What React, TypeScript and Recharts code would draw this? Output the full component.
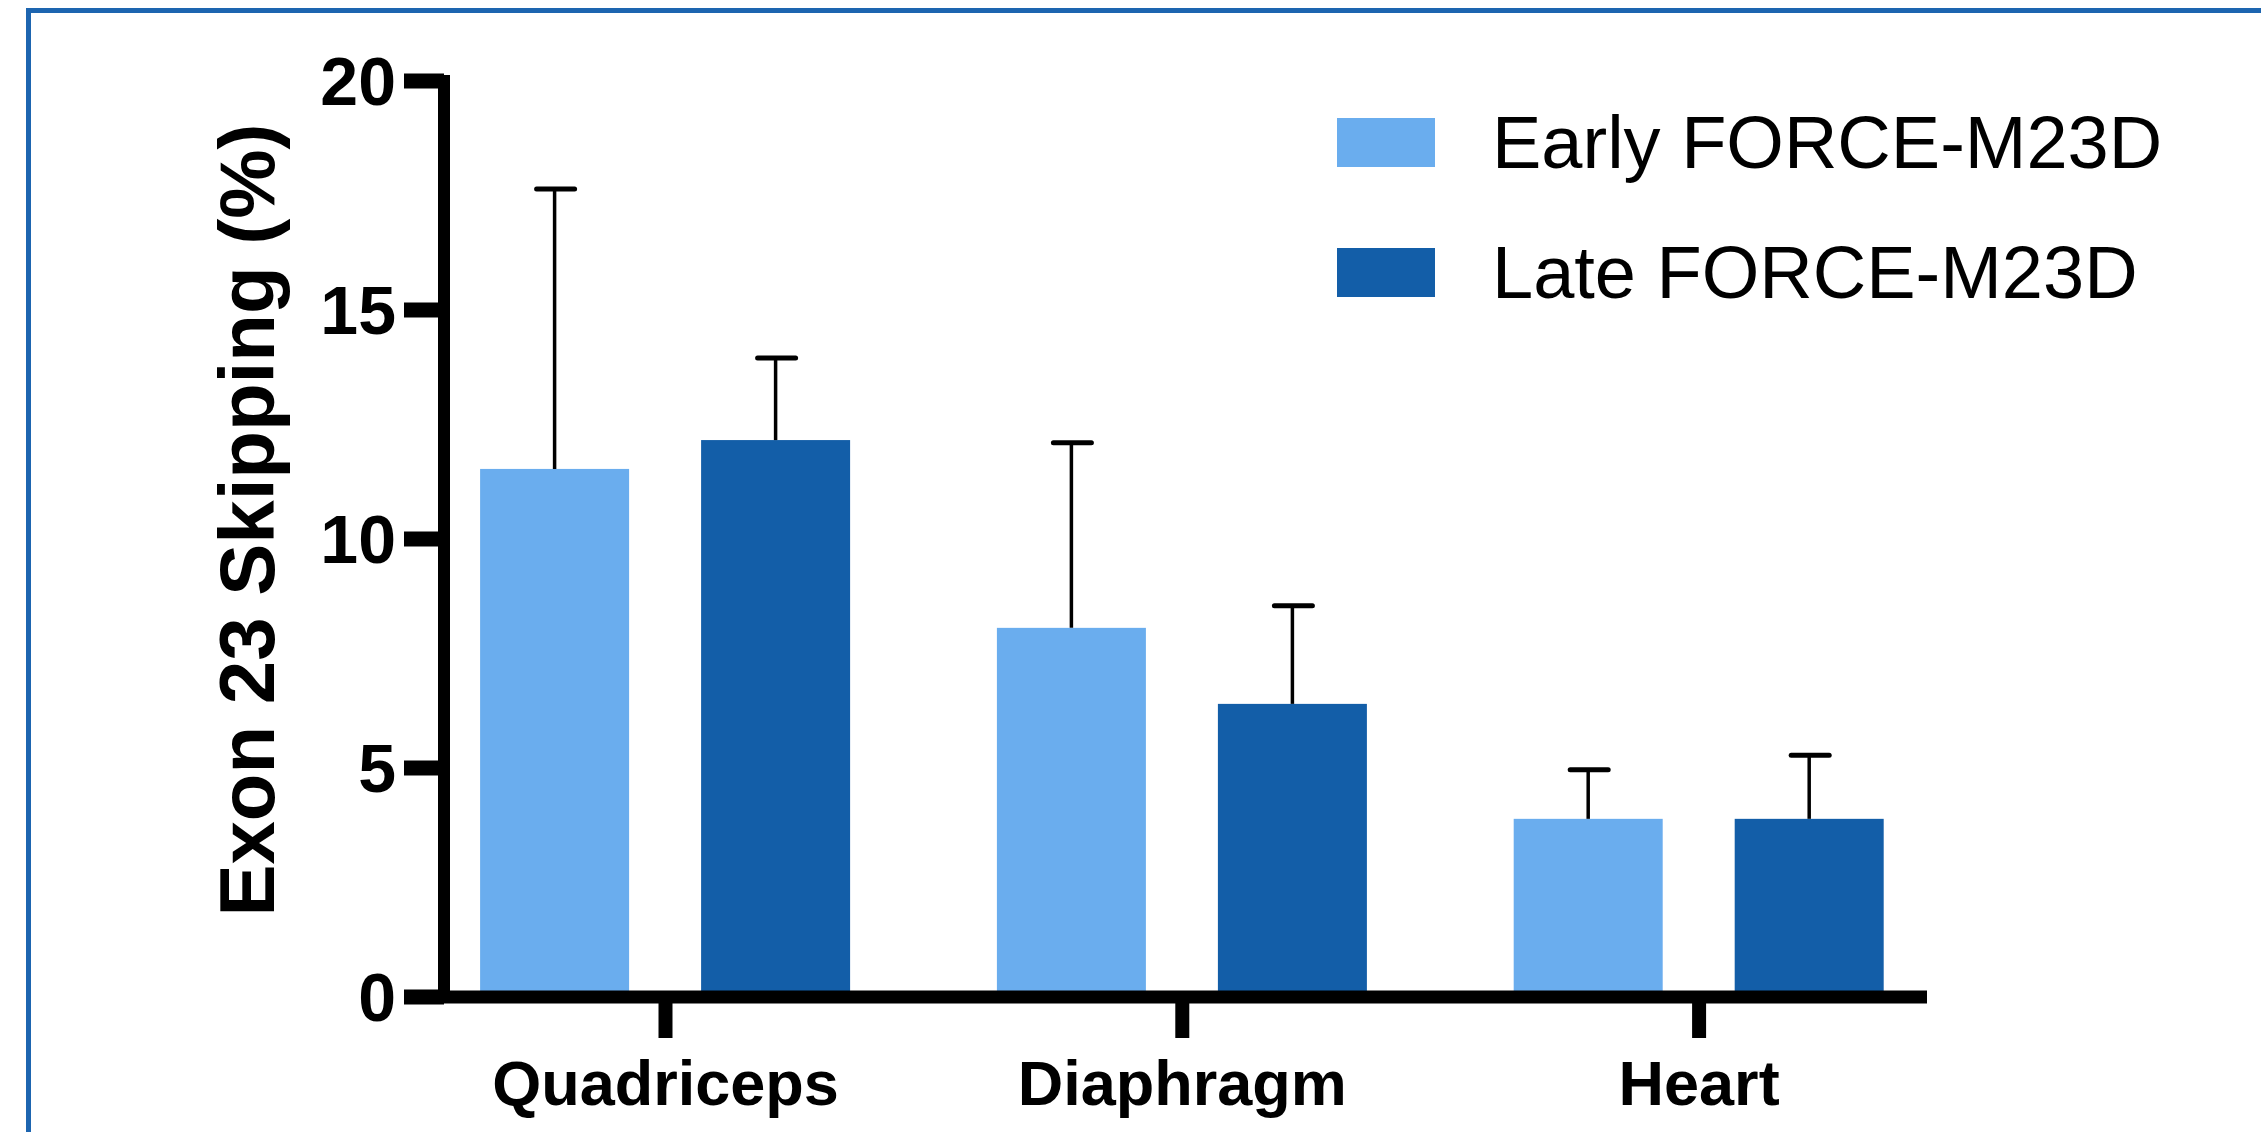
import { BarChart, Bar, XAxis, YAxis, Legend, Label } from 'recharts';

const tissues = ['Quadriceps', 'Diaphragm', 'Heart'];
const earlyMean = [11.53, 8.06, 3.89];
const earlySd = [6.11, 4.04, 1.07];
const lateMean = [12.16, 6.4, 3.89];
const lateSd = [1.79, 2.14, 1.39];
const yTicks = [0, 5, 10, 15, 20];

const EARLY = '#6aadee';
const LATE = '#135ea8';
const FONT = '"Liberation Sans", Arial, sans-serif';

const data = tissues.map((name, i) => ({
  pos: i,
  name,
  early: earlyMean[i],
  earlySd: earlySd[i],
  late: lateMean[i],
  lateSd: lateSd[i],
}));

// bar + upper-only SD whisker (GraphPad style)
const barWithCap = (valueKey: string, sdKey: string) => (props: any) => {
  const { x, y, width, height, fill, payload } = props;
  const v = payload[valueKey];
  const pxPerUnit = v ? height / v : 0;
  const top = y - payload[sdKey] * pxPerUnit;
  const cx = x + width / 2;
  return (
    <g>
      <rect x={x} y={y} width={width} height={height} fill={fill} />
      <line x1={cx} y1={y} x2={cx} y2={top} stroke="#000" strokeWidth={3.5} />
      <line x1={cx - 18} y1={top} x2={cx + 20} y2={top} stroke="#000" strokeWidth={5} strokeLinecap="round" />
    </g>
  );
};

const renderLegend = (props: any) => (
  <svg width={900} height={270}>
    {(props.payload || []).map((entry: any, i: number) => (
      <g key={entry.value} transform={`translate(0, ${i * 130})`}>
        <rect x={0} y={18} width={98} height={49} fill={entry.color} />
        <text x={155} y={68} fontSize={74} fontFamily={FONT} fill="#000">
          {entry.value}
        </text>
      </g>
    ))}
  </svg>
);

const renderYLabel = (props: any) => {
  const vb = props.viewBox;
  const tx = vb.x + 226;
  const ty = vb.y + vb.height / 2 - 19;
  return (
    <text
      x={tx}
      y={ty}
      transform={`rotate(-90, ${tx}, ${ty})`}
      textAnchor="middle"
      fontSize={78}
      fontWeight="bold"
      fontFamily={FONT}
      fill="#000"
    >
      Exon 23 Skipping (%)
    </text>
  );
};

export default function App() {
  return (
    <div style={{ position: 'absolute', left: 0, top: 0, width: 2261, height: 1132, background: '#fff' }}>
      <div
        style={{
          position: 'absolute',
          left: 26,
          top: 8,
          right: 0,
          bottom: 0,
          borderLeft: '5px solid #1d65b0',
          borderTop: '5px solid #1d65b0',
        }}
      />
      <BarChart
        width={2261}
        height={1132}
        data={data}
        margin={{ top: 81, right: 334, left: 48, bottom: 0 }}
        barSize={149}
        barGap={72}
        style={{ position: 'absolute', left: 0, top: 0 }}
      >
        <XAxis
          dataKey="pos"
          type="number"
          domain={[-0.4286, 2.441]}
          ticks={[0, 1, 2]}
          tickFormatter={(v: number) => tissues[v]}
          height={135}
          axisLine={{ stroke: '#000', strokeWidth: 13 }}
          tickLine={{ stroke: '#000', strokeWidth: 14 }}
          tickSize={41}
          tickMargin={22}
          tick={{ fill: '#000', fontSize: 63, fontWeight: 'bold', fontFamily: FONT }}
        />
        <YAxis
          type="number"
          domain={[0, 20]}
          ticks={yTicks}
          width={396}
          axisLine={{ stroke: '#000', strokeWidth: 12, strokeLinecap: 'square' }}
          tickLine={{ stroke: '#000', strokeWidth: 15 }}
          tickSize={40}
          tickMargin={8}
          tick={{ fill: '#000', fontSize: 68, fontWeight: 'bold', fontFamily: FONT }}
        >
          <Label content={renderYLabel} />
        </YAxis>
        <Legend
          layout="vertical"
          align="center"
          verticalAlign="middle"
          wrapperStyle={{ left: 1337, top: 100, width: 900, height: 270 }}
          content={renderLegend}
        />
        <Bar
          dataKey="early"
          name="Early FORCE-M23D"
          fill={EARLY}
          isAnimationActive={false}
          shape={barWithCap('early', 'earlySd')}
        />
        <Bar
          dataKey="late"
          name="Late FORCE-M23D"
          fill={LATE}
          isAnimationActive={false}
          shape={barWithCap('late', 'lateSd')}
        />
      </BarChart>
    </div>
  );
}
